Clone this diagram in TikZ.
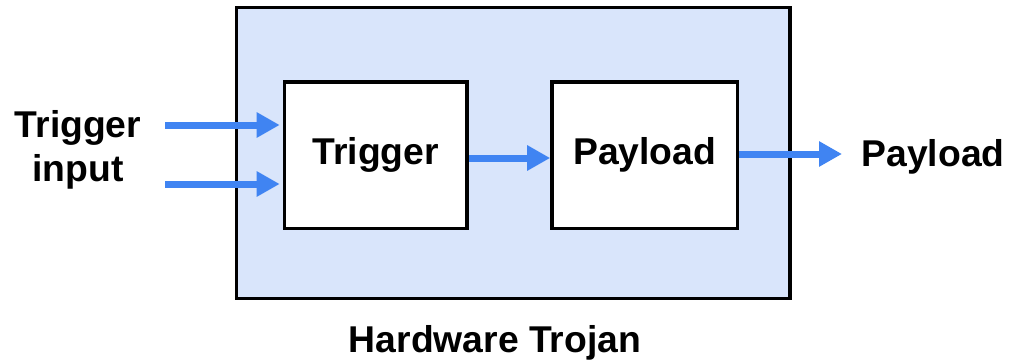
\documentclass[tikz,border=0pt]{standalone}
\usepackage{fontspec}
\setmainfont{Liberation Sans}
\usetikzlibrary{arrows.meta}
\definecolor{htfill}{RGB}{217,229,251}
\definecolor{sigblue}{RGB}{64,132,242}
\tikzset{
  block/.style={draw=black, line width=3.6pt, fill=white, inner sep=0pt},
  lbl/.style={font=\fontsize{37.3}{44}\selectfont\bfseries, inner sep=0pt},
  sig/.style={draw=sigblue, line width=7pt,
    -{Triangle[length=23pt,width=24pt,fill=sigblue]}},
}
\begin{document}
\begin{tikzpicture}[x=1pt,y=-1pt]
  \useasboundingbox (0,0) rectangle (1009,362);
  % enclosing Trojan region
  \node[block, fill=htfill, minimum width=553.5pt, minimum height=291pt] (ht) at (513.25,153) {};
  % inner blocks
  \node[block, minimum width=182.5pt, minimum height=146.5pt] (trig) at (375.75,155.25) {};
  \node[block, minimum width=185.5pt, minimum height=146.5pt] (pay) at (644.75,155.25) {};
  \node[lbl] at (trig.center) {Trigger};
  \node[lbl] at (pay.center) {Payload};
  % labels outside
  \node[lbl, align=center] (tin) at (78,150) {Trigger\\input};
  \node[lbl] (pout) at (933,157) {Payload};
  \node[lbl] (title) at (495,343) {Hardware Trojan};
  % signal arrows
  \coordinate (in1) at (165,125);
  \coordinate (in2) at (165,184);
  \coordinate (mid) at (0,158);
  \coordinate (out) at (842,154);
  \draw[sig, shorten >=3pt] (in1) -- (trig.west |- in1);
  \draw[sig, shorten >=3pt] (in2) -- (trig.west |- in2);
  \draw[sig] (trig.east |- mid) -- (pay.west |- mid);
  \draw[sig] (pay.east |- out) -- (out);
\end{tikzpicture}
\end{document}
